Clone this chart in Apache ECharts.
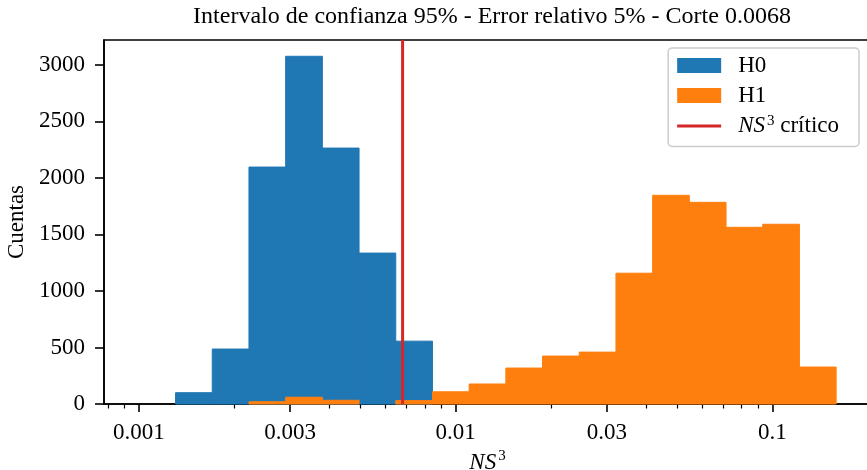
<!DOCTYPE html>
<html>
<head>
<meta charset="utf-8">
<script src="https://cdn.jsdelivr.net/npm/echarts@6/dist/echarts.min.js"></script>
<style>
  html, body { margin: 0; padding: 0; background: #fff; }
  #chart { width: 867px; height: 470px; }
</style>
</head>
<body>
<div id="chart"></div>
<script>
// log-spaced bin edges (19 bins)
const BIN_EDGES = [0.001, 0.0013057, 0.0017049, 0.0022261, 0.0029066, 0.0037952, 0.0049554,
  0.0064703, 0.0084483, 0.011031, 0.014403, 0.018806, 0.024555, 0.032062, 0.041863,
  0.054661, 0.071371, 0.093189, 0.12168, 0.15888]
const H0_COUNTS = [0, 100, 486, 2096, 3076, 2264, 1335, 556, 0, 0, 0, 0, 0, 0, 0, 0, 0, 0, 0]
const H1_COUNTS = [0, 0, 0, 20, 60, 33, 0, 30, 108, 177, 318, 424, 459, 1157, 1846, 1784, 1563, 1590, 327]
const CRITICAL = 0.0068

const X_TICKS = [0.001, 0.003, 0.01, 0.03, 0.1]
const X_TICK_LABELS = ["0.001", "0.003", "0.01", "0.03", "0.1"]
const X_MINOR_TICKS = [0.0008, 0.0009, 0.002, 0.004, 0.005, 0.006, 0.007, 0.008, 0.009,
  0.02, 0.04, 0.05, 0.06, 0.07, 0.08, 0.09]
const Y_TICKS = [0, 500, 1000, 1500, 2000, 2500, 3000]
const Y_MAX = 3220

const FONT = '"Liberation Serif", "DejaVu Serif", serif'
const FS = 23
const lg = Math.log10

const lo = lg(BIN_EDGES[0])
const hi = lg(BIN_EDGES[BIN_EDGES.length - 1])
const pad = (hi - lo) * 0.05
const X_MIN = lo - pad
const X_MAX = hi + pad

// thin horizontal stripe centred in a 44x15 box, for the legend line icon
const LINE_ICON = "path://M0,0L0.01,0Z M0,6L44,6L44,9L0,9Z M44,15L43.99,15Z"

function histData(counts) {
  return counts.map((c, i) => [lg(BIN_EDGES[i]), lg(BIN_EDGES[i + 1]), c])
}

function histSeries(name, counts, color) {
  return {
    name,
    type: "custom",
    xAxisIndex: 0,
    itemStyle: { color },
    encode: { x: [0, 1], y: 2 },
    data: histData(counts),
    renderItem(params, api) {
      if (!api.value(2)) return null
      const p0 = api.coord([api.value(0), 0])
      const p1 = api.coord([api.value(1), api.value(2)])
      return {
        type: "rect",
        shape: { x: p0[0], y: p1[1], width: p1[0] - p0[0], height: p0[1] - p1[1] },
        style: { fill: color, stroke: color, lineWidth: 1 },
      }
    },
  }
}

function tickLabel(v) {
  const i = X_TICKS.findIndex(t => Math.abs(lg(t) - v) < 1e-6)
  return i >= 0 ? X_TICK_LABELS[i] : ""
}

function supRich(lh) {
  return {
    i: { fontFamily: FONT, fontStyle: "italic", fontSize: FS, color: "#000", lineHeight: lh },
    s: { fontFamily: FONT, fontSize: 15, color: "#000", verticalAlign: "top", lineHeight: 16, padding: [0, 0, 0, 2] },
    t: { fontFamily: FONT, fontSize: FS, color: "#000", lineHeight: lh },
  }
}

const chart = echarts.init(document.getElementById("chart"), null, { renderer: "canvas" })

chart.setOption({
  animation: false,
  backgroundColor: "#fff",
  title: {
    text: "Intervalo de confianza 95% - Error relativo 5% - Corte 0.0068",
    left: 487,
    textAlign: "center",
    top: 0,
    textStyle: { fontFamily: FONT, fontSize: 24, fontWeight: "normal", color: "#000" },
  },
  grid: {
    left: 104, right: -4, top: 40, bottom: 66,
    show: true, borderColor: "#000", borderWidth: 1.6,
    outerBoundsMode: "none",
  },
  legend: {
    orient: "vertical",
    right: 8,
    top: 48,
    padding: [6, 20, 9, 9],
    itemWidth: 44,
    itemHeight: 15,
    itemGap: 7,
    borderColor: "#cccccc",
    borderWidth: 1.5,
    borderRadius: 4,
    backgroundColor: "rgba(255,255,255,0.8)",
    data: [
      { name: "H0", icon: "rect" },
      { name: "H1", icon: "rect" },
      { name: "crit", icon: LINE_ICON },
    ],
    formatter: name => name === "crit" ? "{i|NS}{s|3}{t| crítico}" : "{t|" + name + "}",
    textStyle: { fontFamily: FONT, fontSize: FS, color: "#000", padding: [0, 0, 0, 12], rich: supRich(24) },
  },
  xAxis: [
    {
      type: "value",
      position: "bottom",
      min: X_MIN,
      max: X_MAX,
      name: "{i|NS}{s|3}",
      nameLocation: "middle",
      nameGap: 41,
      nameTextStyle: { rich: supRich(28) },
      axisLine: { show: true, onZero: false, lineStyle: { color: "#000", width: 1.6 } },
      axisTick: { show: true, length: 8, customValues: X_TICKS.map(lg), lineStyle: { color: "#000", width: 1.6 } },
      axisLabel: {
        customValues: X_TICKS.map(lg),
        formatter: tickLabel,
        margin: 17,
        fontFamily: FONT, fontSize: FS, color: "#000",
      },
      splitLine: { show: false },
    },
    {
      type: "value",
      position: "bottom",
      min: X_MIN,
      max: X_MAX,
      axisLine: { show: false },
      axisTick: { show: true, length: 4.5, customValues: X_MINOR_TICKS.map(lg), lineStyle: { color: "#000", width: 1.2 } },
      axisLabel: { show: false },
      splitLine: { show: false },
    },
  ],
  yAxis: {
    type: "value",
    min: 0,
    max: Y_MAX,
    name: "Cuentas",
    nameLocation: "middle",
    nameGap: 74,
    nameRotate: 90,
    nameTextStyle: { fontFamily: FONT, fontSize: FS, color: "#000" },
    axisLine: { show: true, lineStyle: { color: "#000", width: 1.6 } },
    axisTick: { show: true, length: 9, customValues: Y_TICKS, lineStyle: { color: "#000", width: 1.6 } },
    axisLabel: {
      customValues: Y_TICKS,
      formatter: v => String(v),
      margin: 19,
      fontFamily: FONT, fontSize: FS, color: "#000",
    },
    splitLine: { show: false },
  },
  series: [
    histSeries("H0", H0_COUNTS, "#1f77b4"),
    histSeries("H1", H1_COUNTS, "#ff7f0e"),
    {
      name: "crit",
      type: "line",
      xAxisIndex: 0,
      symbol: "none",
      data: [[lg(CRITICAL), 0], [lg(CRITICAL), Y_MAX]],
      lineStyle: { color: "#d62728", width: 3 },
      itemStyle: { color: "#d62728" },
      z: 5,
    },
  ],
})
</script>
</body>
</html>
